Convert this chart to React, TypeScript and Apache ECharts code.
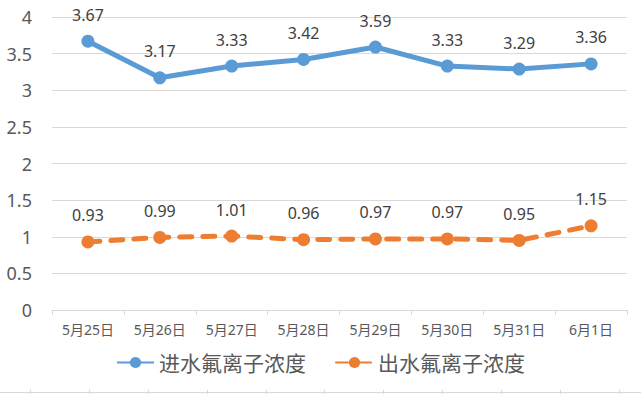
import React, { useEffect, useRef } from "react";
import * as echarts from "echarts";

const categories = ["5月25日", "5月26日", "5月27日", "5月28日", "5月29日", "5月30日", "5月31日", "6月1日"];
const inflow = [3.67, 3.17, 3.33, 3.42, 3.59, 3.33, 3.29, 3.36];
const outflow = [0.93, 0.99, 1.01, 0.96, 0.97, 0.97, 0.95, 1.15];
const seriesNames = ["进水氟离子浓度", "出水氟离子浓度"];
const bottomTicks = [30, 89, 148, 207, 266, 324, 383, 442, 501, 560, 619];

const FONT = "'Noto Sans', 'Noto Sans CJK SC', sans-serif";

export default function App() {
  const ref = useRef<HTMLDivElement>(null);
  useEffect(() => {
    const chart = echarts.init(ref.current!, undefined, { renderer: "svg" });
    const graphics: any[] = [
      { type: "line", shape: { x1: 0, y1: 392.5, x2: 641, y2: 392.5 }, style: { stroke: "#d9d9d9", lineWidth: 1 } },
      ...bottomTicks.map((x) => ({
        type: "line",
        shape: { x1: x + 0.5, y1: 390, x2: x + 0.5, y2: 394 },
        style: { stroke: "#d9d9d9", lineWidth: 1 },
      })),
    ];
    chart.setOption({
      animation: false,
      backgroundColor: "#ffffff",
      textStyle: { fontFamily: FONT },
      grid: { left: 52, right: 14, top: 17, bottom: 84 },
      legend: {
        bottom: 16,
        left: "center",
        itemGap: 29,
        itemWidth: 37,
        itemHeight: 14,
        textStyle: { fontSize: 21, color: "#595959", fontFamily: FONT },
        data: seriesNames,
      },
      graphic: graphics,
      xAxis: {
        type: "category",
        data: categories,
        boundaryGap: true,
        axisLine: { lineStyle: { color: "#d9d9d9", width: 1 } },
        axisTick: { show: true, length: 5, lineStyle: { color: "#d9d9d9" } },
        axisLabel: { fontSize: 14, color: "#595959", margin: 12, fontFamily: FONT },
      },
      yAxis: {
        type: "value",
        min: 0,
        max: 4,
        interval: 0.5,
        axisLine: { show: false },
        axisTick: { show: false },
        splitLine: { lineStyle: { color: "#d9d9d9", width: 1 } },
        axisLabel: { fontSize: 18, color: "#595959", margin: 20, fontFamily: FONT },
      },
      series: [
        {
          name: seriesNames[0],
          type: "line",
          data: inflow,
          symbol: "circle",
          symbolSize: 13,
          itemStyle: { color: "#5b9bd5" },
          lineStyle: { color: "#5b9bd5", width: 5 },
          label: { show: true, position: "top", distance: 12, fontSize: 16, color: "#404040", fontFamily: FONT },
        },
        {
          name: seriesNames[1],
          type: "line",
          data: outflow,
          symbol: "circle",
          symbolSize: 13,
          itemStyle: { color: "#ed7d31" },
          lineStyle: { color: "#ed7d31", width: 5, type: [12, 11], cap: "round" },
          label: { show: true, position: "top", distance: 12, fontSize: 16, color: "#404040", fontFamily: FONT },
        },
      ],
    });
    return () => chart.dispose();
  }, []);
  return (
    <div
      ref={ref}
      style={{ position: "fixed", left: 0, top: 0, width: 641, height: 394, background: "#fff" }}
    />
  );
}
